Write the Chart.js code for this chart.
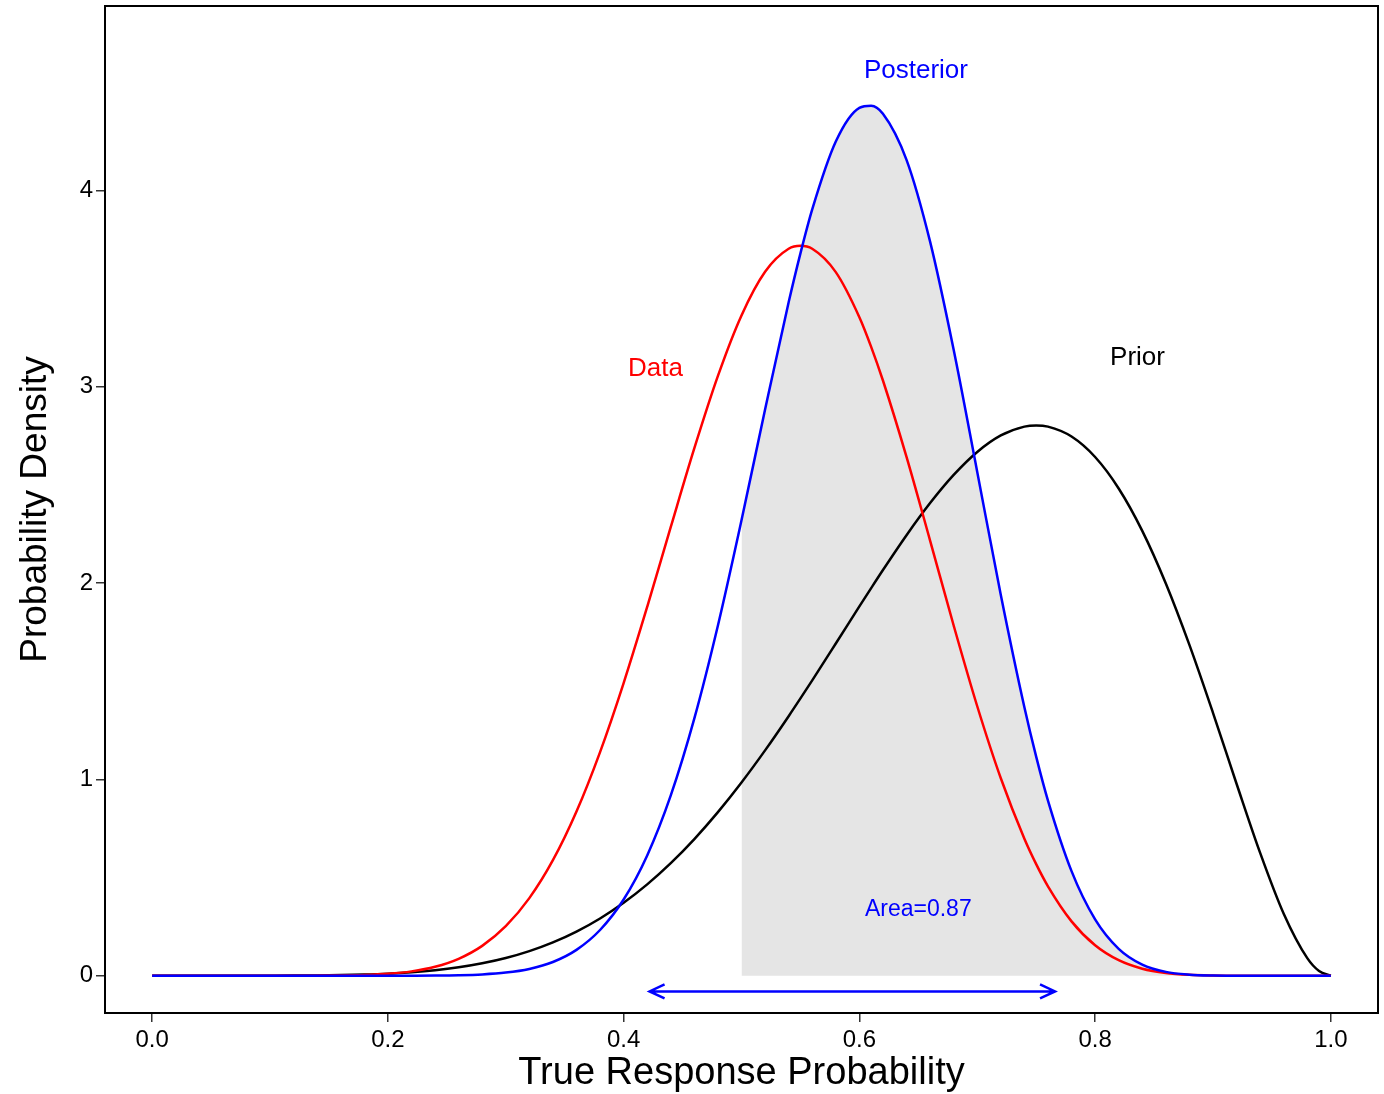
<!DOCTYPE html>
<html>
<head>
<meta charset="utf-8">
<title>Prior, data and posterior densities</title>
<script src="https://cdn.jsdelivr.net/npm/chart.js@4.4.1/dist/chart.umd.min.js"></script>
<style>
  html, body { margin: 0; padding: 0; background: #fff; }
  canvas { display: block; }
</style>
</head>
<body>
<canvas id="densityChart" width="1384" height="1094"></canvas>
<script>
// response probability grid (extra points at the three modes and next to 1)
const xs = [0, 0.02, 0.04, 0.06, 0.08, 0.1, 0.12, 0.14, 0.16, 0.18,
            0.2, 0.22, 0.24, 0.26, 0.28, 0.3, 0.32, 0.34, 0.36, 0.38,
            0.4, 0.42, 0.44, 0.46, 0.48, 0.5, 0.52, 0.54, 0.55, 0.56, 0.58,
            0.6, 0.61, 0.62, 0.64, 0.66, 0.68, 0.7, 0.72, 0.74, 0.75, 0.76, 0.78,
            0.8, 0.82, 0.84, 0.86, 0.88, 0.9, 0.92, 0.94, 0.96, 0.98, 0.99, 1.0];

const priorDensity = [0, 0, 0, 0.00001, 0.00006, 0.0002, 0.0006, 0.0014, 0.0030, 0.0058,
                      0.0103, 0.0174, 0.0278, 0.0426, 0.0630, 0.0900, 0.1251, 0.1696, 0.2247, 0.2917,
                      0.3716, 0.4653, 0.5734, 0.6962, 0.8334, 0.9844, 1.1479, 1.3221, 1.4125, 1.5046, 1.6923,
                      1.8812, 1.9747, 2.0669, 2.2443, 2.4078, 2.5513, 2.6683, 2.7524, 2.7973, 2.8032, 2.7971, 2.7467,
                      2.6424, 2.4822, 2.2663, 1.9982, 1.6852, 1.3392, 0.9779, 0.6258, 0.3156, 0.0893, 0.0237, 0];

const dataDensity = [0, 0, 0, 0, 0, 0.00001, 0.0001, 0.0004, 0.0013, 0.0038,
                     0.0097, 0.0220, 0.0454, 0.0861, 0.1521, 0.2521, 0.3951, 0.5883, 0.8363, 1.1392,
                     1.4909, 1.8793, 2.2860, 2.6872, 3.0557, 3.3638, 3.5862, 3.7032, 3.7181, 3.7032, 3.5841,
                     3.3545, 3.2036, 3.0322, 2.6432, 2.2167, 1.7839, 1.3727, 1.0057, 0.6978, 0.5683, 0.4553, 0.2769,
                     0.1551, 0.0789, 0.0356, 0.0139, 0.0045, 0.0011, 0.0002, 0, 0, 0, 0, 0];

const posteriorDensity = [0, 0, 0, 0, 0, 0, 0, 0, 0, 0,
                          0.0001, 0.0003, 0.0009, 0.0026, 0.0067, 0.0159, 0.0346, 0.0699, 0.1316, 0.2328,
                          0.3881, 0.6127, 0.9184, 1.3108, 1.7842, 2.3199, 2.8842, 3.4304, 3.6797, 3.9038, 4.2495,
                          4.4212, 4.4324, 4.3913, 4.1563, 3.7396, 3.1889, 2.5664, 1.9395, 1.3677, 1.1161, 0.8922, 0.5328,
                          0.2872, 0.1371, 0.0565, 0.0194, 0.0053, 0.0010, 0.0001, 0, 0, 0, 0, 0];

const xTickValues = [0, 0.2, 0.4, 0.6, 0.8, 1.0];
const xTickLabels = ['0.0', '0.2', '0.4', '0.6', '0.8', '1.0'];
const yTickValues = [0, 1, 2, 3, 4];
const yTickLabels = ['0', '1', '2', '3', '4'];

// posterior mass above 0.5 and the interval shown under the curves
const shadeFrom = 0.5;
const areaText = 'Area=0.87';
const intervalLow = 0.422;
const intervalHigh = 0.766;

const FONT = "'Liberation Sans', Arial, Helvetica, sans-serif";
const BLUE = '#0000FF';
const RED = '#FF0000';

// curve names and where they sit (data units)
const notes = [
  { text: 'Posterior', x: 0.648, y: 4.61, color: BLUE, size: 26 },
  { text: 'Data', x: 0.427, y: 3.09, color: RED, size: 26 },
  { text: 'Prior', x: 0.836, y: 3.15, color: '#000000', size: 26 },
  { text: areaText, x: 0.650, y: 0.339, color: BLUE, size: 23 }
];
const intervalY = -0.08;

function toPoints(series) {
  return xs.map((x, i) => ({ x: x, y: series[i] }));
}

const shadePoints = toPoints(posteriorDensity).filter(p => p.x >= shadeFrom);

const overlay = {
  id: 'overlay',
  afterDatasetsDraw(chart) {
    const { ctx, chartArea, scales } = chart;
    const x = scales.x, y = scales.y;
    ctx.save();

    // double headed arrow for the interval
    const ay = y.getPixelForValue(intervalY);
    const a1 = x.getPixelForValue(intervalLow);
    const a2 = x.getPixelForValue(intervalHigh);
    const hl = 15, hw = 7;
    ctx.strokeStyle = BLUE;
    ctx.lineWidth = 2.5;
    ctx.beginPath();
    ctx.moveTo(a1, ay); ctx.lineTo(a2, ay);
    ctx.moveTo(a1 + hl, ay - hw); ctx.lineTo(a1, ay); ctx.lineTo(a1 + hl, ay + hw);
    ctx.moveTo(a2 - hl, ay - hw); ctx.lineTo(a2, ay); ctx.lineTo(a2 - hl, ay + hw);
    ctx.stroke();

    // text labels
    ctx.textAlign = 'center';
    ctx.textBaseline = 'middle';
    notes.forEach(n => {
      ctx.font = n.size + 'px ' + FONT;
      ctx.fillStyle = n.color;
      ctx.fillText(n.text, x.getPixelForValue(n.x), y.getPixelForValue(n.y));
    });

    // plot frame
    ctx.strokeStyle = '#000';
    ctx.lineWidth = 2;
    ctx.strokeRect(chartArea.left, chartArea.top,
                   chartArea.right - chartArea.left, chartArea.bottom - chartArea.top);
    ctx.restore();
  }
};

const ctx = document.getElementById('densityChart').getContext('2d');
const densityChart = new Chart(ctx, {
  type: 'line',
  data: {
    datasets: [
      {
        label: 'Posterior',
        data: toPoints(posteriorDensity),
        borderColor: BLUE,
        borderWidth: 2.5,
        fill: false
      },
      {
        label: 'Data',
        data: toPoints(dataDensity),
        borderColor: RED,
        borderWidth: 2.5,
        fill: false
      },
      {
        label: 'Prior',
        data: toPoints(priorDensity),
        borderColor: '#000000',
        borderWidth: 2.5,
        fill: false
      },
      {
        label: 'Area',
        data: shadePoints,
        borderColor: 'rgba(0,0,0,0)',
        borderWidth: 0,
        backgroundColor: '#E5E5E5',
        fill: 'origin'
      }
    ]
  },
  options: {
    responsive: false,
    devicePixelRatio: 1,
    animation: false,
    events: [],
    elements: {
      point: { radius: 0 },
      line: { cubicInterpolationMode: 'monotone' }
    },
    layout: { padding: { left: 0, top: 6, right: 6, bottom: 0 } },
    plugins: {
      legend: { display: false },
      tooltip: { enabled: false }
    },
    scales: {
      x: {
        type: 'linear',
        min: -0.04,
        max: 1.04,
        afterBuildTicks: scale => { scale.ticks = xTickValues.map(v => ({ value: v })); },
        afterFit: scale => {
          scale.height = 81;
          scale.paddingLeft = 0;
          scale.paddingRight = 0;
        },
        ticks: {
          autoSkip: false,
          maxRotation: 0,
          padding: 4,
          color: '#000',
          font: { family: FONT, size: 24 },
          callback: (v, i) => xTickLabels[i]
        },
        grid: {
          drawOnChartArea: false,
          drawTicks: true,
          tickLength: 9,
          color: '#333',
          lineWidth: 1.5
        },
        border: { display: false },
        title: {
          display: true,
          text: 'True Response Probability',
          color: '#000',
          font: { family: FONT, size: 38 },
          padding: { top: 0, bottom: -2 }
        }
      },
      y: {
        type: 'linear',
        min: -0.19,
        max: 4.94,
        afterBuildTicks: scale => { scale.ticks = yTickValues.map(v => ({ value: v })); },
        afterFit: scale => {
          scale.width = 105;
          scale.paddingTop = 0;
          scale.paddingBottom = 0;
        },
        ticks: {
          autoSkip: false,
          padding: 3,
          color: '#000',
          font: { family: FONT, size: 24 },
          callback: (v, i) => yTickLabels[i]
        },
        grid: {
          drawOnChartArea: false,
          drawTicks: true,
          tickLength: 9,
          color: '#333',
          lineWidth: 1.5
        },
        border: { display: false },
        title: {
          display: true,
          text: 'Probability Density',
          color: '#000',
          font: { family: FONT, size: 37 },
          padding: { top: 14, bottom: 0 }
        }
      }
    }
  },
  plugins: [overlay]
});
</script>
</body>
</html>
